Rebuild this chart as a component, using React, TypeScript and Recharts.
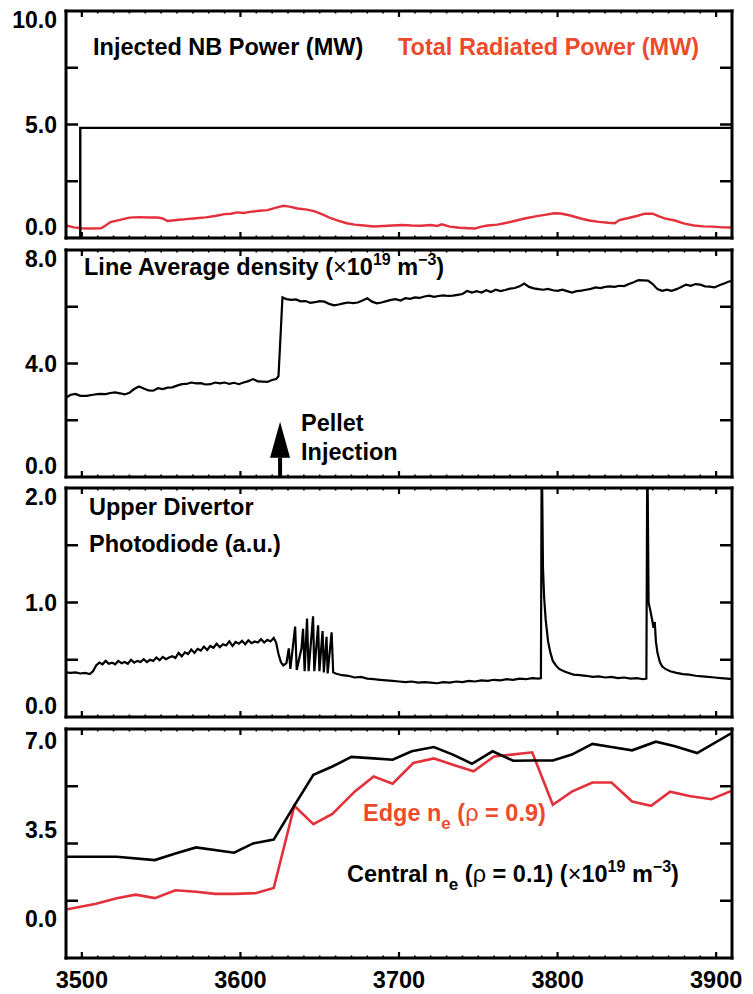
import { LineChart, Line, XAxis, YAxis, ReferenceLine } from 'recharts';

const FONT = '"Liberation Sans", Arial, Helvetica, sans-serif';
const INK = '#000';
const RED_LINE = '#e3303a';
const RED_TEXT = '#ee4a2a';

const timeDomain: [number, number] = [3490, 3910];
const minorTimeTicks = Array.from({ length: 43 }, (_, i) => 3490 + 10 * i);

// panel 1: injected NB power and total radiated power (MW)
const nbTime = [3490, 3499, 3499, 3910];
const nbPower = [0, 0, 4.85, 4.85];
const pradTime = [
  3490, 3495, 3500, 3505, 3512, 3515, 3518, 3524, 3530, 3536, 3542, 3548, 3551, 3554, 3560, 3566,
  3572, 3578, 3584, 3590, 3594, 3598, 3602, 3606, 3612, 3617, 3622, 3627, 3631, 3636, 3642, 3647,
  3652, 3657, 3662, 3667, 3672, 3678, 3684, 3690, 3696, 3702, 3708, 3714, 3720, 3724, 3727, 3732,
  3738, 3744, 3748, 3752, 3756, 3762, 3768, 3774, 3780, 3786, 3792, 3798, 3802, 3808, 3814, 3820,
  3826, 3832, 3836, 3839, 3844, 3850, 3855, 3860, 3864, 3868, 3874, 3880, 3886, 3892, 3898, 3904, 3910,
];
const pradPower = [
  0.55, 0.47, 0.43, 0.42, 0.43, 0.55, 0.7, 0.8, 0.9, 0.92, 0.9, 0.9, 0.86, 0.75, 0.79, 0.83,
  0.87, 0.91, 0.97, 1.05, 1.07, 1.13, 1.1, 1.15, 1.2, 1.23, 1.33, 1.42, 1.38, 1.3, 1.25, 1.17,
  1.03, 0.87, 0.75, 0.65, 0.59, 0.55, 0.51, 0.53, 0.55, 0.57, 0.55, 0.54, 0.57, 0.53, 0.6, 0.5,
  0.45, 0.43, 0.42, 0.5, 0.55, 0.59, 0.67, 0.77, 0.87, 0.95, 1.02, 1.09, 1.08, 0.99, 0.87, 0.77,
  0.71, 0.67, 0.65, 0.79, 0.87, 0.97, 1.07, 1.07, 0.95, 0.85, 0.77, 0.63, 0.55, 0.51, 0.5, 0.47, 0.46,
];

// panel 2: line average density (1e19 m^-3)
const densTime = [
  3490, 3493, 3496, 3499, 3503, 3507, 3511, 3515, 3518, 3521, 3524, 3527, 3530, 3533, 3536, 3539,
  3542, 3545, 3548, 3551, 3554, 3557, 3560, 3563, 3566, 3569, 3572, 3575, 3578, 3581, 3584, 3587,
  3590, 3593, 3596, 3599, 3602, 3605, 3608, 3611, 3614, 3617, 3620, 3622.5, 3624, 3625.5, 3626.5, 3629,
  3632, 3635, 3638, 3641, 3644, 3647, 3650, 3653, 3656, 3659, 3662, 3665, 3668, 3671, 3674, 3677,
  3680, 3683, 3686, 3689, 3692, 3695, 3698, 3701, 3704, 3707, 3710, 3713, 3716, 3719, 3722, 3725,
  3728, 3731, 3734, 3737, 3740, 3743, 3746, 3749, 3752, 3755, 3758, 3761, 3764, 3767, 3770, 3773,
  3776, 3779, 3782, 3785, 3788, 3791, 3794, 3797, 3800, 3803, 3806, 3809, 3812, 3815, 3818, 3821,
  3824, 3827, 3830, 3833, 3836, 3839, 3842, 3845, 3848, 3851, 3854, 3857, 3860, 3863, 3866, 3869,
  3872, 3875, 3878, 3881, 3884, 3887, 3890, 3893, 3896, 3899, 3902, 3905, 3908, 3910,
];
const densValue = [
  2.8, 2.9, 2.93, 2.86, 2.86, 2.9, 2.93, 2.92, 2.96, 2.98, 2.95, 2.91, 2.97, 3.1, 3.19, 3.12,
  3.05, 3.04, 3.13, 3.1, 3.15, 3.16, 3.22, 3.27, 3.28, 3.33, 3.3, 3.31, 3.26, 3.27, 3.33, 3.3,
  3.33, 3.28, 3.32, 3.27, 3.33, 3.38, 3.45, 3.37, 3.36, 3.35, 3.42, 3.45, 3.55, 5.2, 6.33, 6.27,
  6.24, 6.26, 6.19, 6.2, 6.14, 6.16, 6.2, 6.18, 6.1, 6.05, 6.08, 6.12, 6.15, 6.13, 6.15, 6.22,
  6.3, 6.18, 6.12, 6.15, 6.2, 6.24, 6.27, 6.22, 6.3, 6.28, 6.33, 6.31, 6.36, 6.39, 6.35, 6.38,
  6.4, 6.38, 6.39, 6.42, 6.45, 6.56, 6.5, 6.55, 6.5, 6.58, 6.52, 6.6, 6.55, 6.59, 6.64, 6.66,
  6.72, 6.82, 6.7, 6.65, 6.62, 6.6, 6.63, 6.58, 6.56, 6.6, 6.55, 6.5, 6.55, 6.57, 6.6, 6.63,
  6.68, 6.66, 6.7, 6.72, 6.7, 6.74, 6.73, 6.8, 6.86, 6.94, 6.93, 6.92, 6.8, 6.62, 6.56, 6.6,
  6.56, 6.62, 6.7, 6.78, 6.74, 6.8, 6.78, 6.72, 6.71, 6.68, 6.76, 6.82, 6.89, 6.9,
];
const pelletTime = 3625;
const pelletArrowTop = 1.95;

// panel 3: upper divertor photodiode (a.u.)
const diodeTime = [
  3490, 3493, 3496, 3499, 3502, 3505, 3507, 3509, 3511, 3513, 3515, 3517, 3519, 3521, 3523, 3525,
  3527, 3529, 3531, 3533, 3535, 3537, 3539, 3541, 3543, 3545, 3547, 3549, 3551, 3553, 3555, 3557,
  3559, 3561, 3563, 3565, 3567, 3569, 3571, 3573, 3575, 3577, 3579, 3581, 3583, 3585, 3587, 3589,
  3591, 3593, 3595, 3597, 3599, 3601, 3603, 3605, 3607, 3609, 3611, 3613, 3615, 3617, 3619, 3621,
  3622.5, 3624, 3625.5, 3627, 3629, 3630.5, 3631.5, 3634.5, 3635.5, 3638.5, 3639.5, 3640.5, 3642, 3643, 3645.8, 3646.6,
  3649, 3649.8, 3651.8, 3652.6, 3654.3, 3655, 3657.5, 3658.5, 3660, 3664, 3668, 3672, 3676, 3680, 3684, 3688,
  3692, 3696, 3700, 3704, 3708, 3712, 3716, 3720, 3724, 3728, 3732, 3736, 3740, 3744, 3748, 3752,
  3756, 3760, 3764, 3768, 3772, 3776, 3780, 3784, 3788, 3789.5, 3790, 3790.8, 3791.5, 3792.5, 3794, 3795.5,
  3797, 3799, 3801, 3804, 3807, 3810, 3814, 3818, 3822, 3826, 3830, 3834, 3838, 3842, 3846, 3850,
  3854, 3856, 3856.6, 3857.4, 3858.5, 3859.5, 3860.5, 3861.3, 3862, 3863, 3864.5, 3866, 3868, 3871, 3875, 3879,
  3883, 3887, 3891, 3895, 3899, 3903, 3907, 3910,
];
const diodeSignal = [
  0.39, 0.385, 0.39, 0.38, 0.385, 0.375, 0.4, 0.45, 0.475, 0.46, 0.49, 0.465, 0.475, 0.46, 0.49, 0.47,
  0.48, 0.465, 0.5, 0.475, 0.49, 0.48, 0.505, 0.48, 0.5, 0.49, 0.52, 0.495, 0.525, 0.505, 0.52, 0.53,
  0.515, 0.56, 0.53, 0.565, 0.55, 0.59, 0.56, 0.595, 0.58, 0.615, 0.585, 0.62, 0.605, 0.64, 0.61, 0.635,
  0.625, 0.66, 0.62, 0.655, 0.64, 0.665, 0.635, 0.67, 0.645, 0.66, 0.65, 0.68, 0.65, 0.675, 0.66, 0.69,
  0.65, 0.55, 0.48, 0.45, 0.47, 0.6, 0.42, 0.79, 0.41, 0.6, 0.77, 0.4, 0.86, 0.4, 0.88, 0.4,
  0.8, 0.4, 0.75, 0.39, 0.7, 0.38, 0.74, 0.39, 0.38, 0.365, 0.36, 0.345, 0.35, 0.335, 0.33, 0.325,
  0.32, 0.315, 0.31, 0.305, 0.31, 0.3, 0.305, 0.3, 0.295, 0.305, 0.3, 0.31, 0.305, 0.315, 0.31, 0.32,
  0.315, 0.325, 0.32, 0.33, 0.325, 0.335, 0.33, 0.34, 0.335, 0.34, 2.4, 1.3, 1.05, 0.85, 0.66, 0.56,
  0.49, 0.45, 0.42, 0.4, 0.385, 0.37, 0.365, 0.36, 0.35, 0.355, 0.345, 0.35, 0.34, 0.345, 0.335, 0.34,
  0.33, 0.335, 2.4, 1.0, 0.93, 0.86, 0.78, 0.83, 0.66, 0.56, 0.48, 0.44, 0.42, 0.4, 0.385, 0.375,
  0.37, 0.36, 0.355, 0.35, 0.345, 0.34, 0.335, 0.33,
];

// panel 4: central and edge density (1e19 m^-3)
const centralTime = [
  3490, 3522, 3546, 3559, 3572, 3596, 3608, 3621, 3633, 3646, 3658, 3670, 3684, 3696, 3708, 3722,
  3734, 3746, 3759, 3772, 3784, 3797, 3809, 3822, 3834, 3847, 3862, 3874, 3888, 3910,
];
const centralDensity = [
  2.43, 2.43, 2.3, 2.56, 2.8, 2.59, 2.96, 3.11, 4.35, 5.66, 5.99, 6.37, 6.31, 6.26, 6.59, 6.76,
  6.46, 6.1, 6.59, 6.22, 6.23, 6.23, 6.46, 6.88, 6.76, 6.63, 6.97, 6.79, 6.52, 7.32,
];
const edgeTime = [
  3490, 3509, 3522, 3534, 3546, 3559, 3572, 3584, 3596, 3610, 3621, 3634, 3646, 3658, 3672, 3684,
  3696, 3709, 3722, 3734, 3747, 3760, 3771, 3784, 3797, 3809, 3822, 3834, 3847, 3859, 3871, 3883,
  3897, 3910,
];
const edgeDensity = [
  0.35, 0.58, 0.8, 0.94, 0.8, 1.11, 1.05, 0.97, 0.97, 1.0, 1.2, 4.44, 3.72, 4.12, 5.0, 5.6,
  5.31, 6.13, 6.31, 6.06, 5.8, 6.39, 6.46, 6.55, 4.48, 5.0, 5.36, 5.36, 4.61, 4.44, 5.0, 4.83,
  4.7, 5.04,
];

const toPoints = (ts: number[], vs: number[]) => ts.map((t, i) => ({ t, v: vs[i] }));

const near = (list: number[], v: number) => list.some((m) => Math.abs(m - v) < 1e-6);

interface PanelProps {
  top: number;
  height: number;
  mTop: number;
  mBottom: number;
  domain: [number, number];
  labels: number[];
  marks: number[];
  showTime?: boolean;
  children: React.ReactNode;
}

// axes are 1px wide/high (recharts skips 0-sized axes), margins shrink by the same amount
function Panel({ top, height, mTop, mBottom, domain, labels, marks, showTime, children }: PanelProps) {
  const boxTop = mTop;
  const boxBottom = height - mBottom;
  const yTicks = [...labels, ...marks.filter((m) => !near(labels, m))].sort((a, b) => a - b);

  const leftTick = (p: any) => {
    const v = p.payload.value;
    const base = Math.min(Math.max(p.y + 8.3, boxTop + 17), boxBottom - 3);
    return (
      <g>
        {near(marks, v) && <line x1={p.x} x2={p.x + 12} y1={p.y} y2={p.y} stroke={INK} strokeWidth={2.5} />}
        {near(labels, v) && (
          <text x={p.x - 9} y={base} textAnchor="end" fontFamily={FONT} fontWeight={700} fontSize={23} fill={INK}>
            {v.toFixed(1)}
          </text>
        )}
      </g>
    );
  };

  const rightTick = (p: any) => (
    <line x1={p.x} x2={p.x - 12} y1={p.y} y2={p.y} stroke={INK} strokeWidth={2.5} />
  );

  const bottomTick = (p: any) => {
    const major = p.payload.value % 100 === 0;
    return (
      <g>
        <line x1={p.x} x2={p.x} y1={p.y} y2={p.y - (major ? 6 : 2.5)} stroke={INK} strokeWidth={major ? 2.2 : 1.6} />
        {showTime && major && (
          <text x={p.x} y={p.y + 30} textAnchor="middle" fontFamily={FONT} fontWeight={700} fontSize={23.5} fill={INK}>
            {p.payload.value}
          </text>
        )}
      </g>
    );
  };

  const topTick = (p: any) => {
    const major = p.payload.value % 100 === 0;
    return <line x1={p.x} x2={p.x} y1={p.y} y2={p.y + (major ? 6 : 2.5)} stroke={INK} strokeWidth={major ? 2.2 : 1.6} />;
  };

  const frame = { stroke: INK, strokeWidth: 3, strokeLinecap: 'square' as const };

  return (
    <div style={{ position: 'absolute', left: 0, top, width: 753, height }}>
      <LineChart width={753} height={height} margin={{ top: mTop - 1, right: 20, bottom: mBottom - 1, left: 65 }}>
        <XAxis
          dataKey="t"
          type="number"
          domain={timeDomain}
          ticks={minorTimeTicks}
          interval={0}
          height={1}
          tickSize={0}
          tickMargin={0}
          tickLine={false}
          tick={bottomTick}
          axisLine={frame}
          allowDataOverflow
        />
        <XAxis
          xAxisId="top"
          orientation="top"
          dataKey="t"
          type="number"
          domain={timeDomain}
          ticks={minorTimeTicks}
          interval={0}
          height={1}
          tickSize={0}
          tickMargin={0}
          tickLine={false}
          tick={topTick}
          axisLine={frame}
          allowDataOverflow
        />
        <YAxis
          type="number"
          domain={domain}
          ticks={yTicks}
          interval={0}
          width={1}
          tickSize={0}
          tickMargin={0}
          tickLine={false}
          tick={leftTick}
          axisLine={frame}
          allowDataOverflow
        />
        <YAxis
          yAxisId="r"
          orientation="right"
          type="number"
          domain={domain}
          ticks={marks}
          interval={0}
          width={1}
          tickSize={0}
          tickMargin={0}
          tickLine={false}
          tick={rightTick}
          axisLine={frame}
          allowDataOverflow
        />
        {children}
      </LineChart>
    </div>
  );
}

const PelletArrow = (p: any) => {
  const { x1, y1, x2, y2 } = p;
  const headLen = 36;
  const headHalf = 10;
  return (
    <g>
      <line x1={x1} x2={x1} y1={y1} y2={y2 + headLen} stroke={INK} strokeWidth={4} />
      <path d={`M${x2},${y2} L${x2 - headHalf},${y2 + headLen} L${x2 + headHalf},${y2 + headLen} Z`} fill={INK} />
    </g>
  );
};

const txt = { fontFamily: FONT, fontWeight: 700, fontSize: 23.5 } as const;

export default function App() {
  const p4Lo = -1.56;
  const p4Hi = 7.47;
  const p4Marks = [1, 2, 3].map((k) => p4Lo + (k * (p4Hi - p4Lo)) / 4);

  return (
    <div style={{ position: 'absolute', left: 0, top: 0, width: 753, height: 994, background: '#fff', overflow: 'hidden' }}>
      <Panel top={0} height={244} mTop={11} mBottom={6} domain={[0, 10]} labels={[0, 5, 10]} marks={[2.5, 5, 7.5]}>
        <Line data={toPoints(pradTime, pradPower)} dataKey="v" type="linear" stroke={RED_LINE} strokeWidth={2.4} dot={false} isAnimationActive={false} />
        <Line data={toPoints(nbTime, nbPower)} dataKey="v" type="linear" stroke={INK} strokeWidth={2.4} dot={false} isAnimationActive={false} />
      </Panel>
      <Panel top={244} height={239} mTop={6} mBottom={6} domain={[0, 8]} labels={[0, 4, 8]} marks={[2, 4, 6]}>
        <Line data={toPoints(densTime, densValue)} dataKey="v" type="linear" stroke={INK} strokeWidth={2.2} dot={false} isAnimationActive={false} />
        <ReferenceLine
          segment={[{ x: pelletTime, y: 0 }, { x: pelletTime, y: pelletArrowTop }]}
          shape={PelletArrow}
          ifOverflow="visible"
        />
      </Panel>
      <Panel top={483} height={240} mTop={5} mBottom={6} domain={[0, 2]} labels={[0, 1, 2]} marks={[0.5, 1, 1.5]}>
        <Line data={toPoints(diodeTime, diodeSignal)} dataKey="v" type="linear" stroke={INK} strokeWidth={2.2} dot={false} isAnimationActive={false} />
      </Panel>
      <Panel top={723} height={271} mTop={6} mBottom={36} domain={[p4Lo, p4Hi]} labels={[0, 3.5, 7]} marks={p4Marks} showTime>
        <Line data={toPoints(edgeTime, edgeDensity)} dataKey="v" type="linear" stroke={RED_LINE} strokeWidth={2.6} dot={false} isAnimationActive={false} />
        <Line data={toPoints(centralTime, centralDensity)} dataKey="v" type="linear" stroke={INK} strokeWidth={2.6} dot={false} isAnimationActive={false} />
      </Panel>

      <svg width={753} height={994} style={{ position: 'absolute', left: 0, top: 0, pointerEvents: 'none' }}>
        <text x={93} y={55} {...txt} fill={INK}>Injected NB Power (MW)</text>
        <text x={398} y={55} {...txt} fill={RED_TEXT}>Total Radiated Power (MW)</text>

        <text x={84} y={275} {...txt} fill={INK}>
          Line Average density (<tspan fontWeight={400}>×</tspan>10
          <tspan dy={-10} fontSize={16}>19</tspan>
          <tspan dy={10}> m</tspan>
          <tspan dy={-10} fontSize={16}>−3</tspan>
          <tspan dy={10}>)</tspan>
        </text>
        <text x={301} y={431} {...txt} fill={INK}>Pellet</text>
        <text x={301} y={460} {...txt} fill={INK}>Injection</text>

        <text x={89} y={515} {...txt} fill={INK}>Upper Divertor</text>
        <text x={89} y={552} {...txt} fill={INK}>Photodiode (a.u.)</text>

        <text x={363} y={821} {...txt} fill={RED_TEXT}>
          Edge n<tspan dy={8} fontSize={17}>e</tspan>
          <tspan dy={-8}> (</tspan>
          <tspan fontWeight={400}>ρ</tspan> = 0.9)
        </text>
        <text x={347} y={882} {...txt} fill={INK}>
          Central n<tspan dy={8} fontSize={17}>e</tspan>
          <tspan dy={-8}> (</tspan>
          <tspan fontWeight={400}>ρ</tspan> = 0.1) (<tspan fontWeight={400}>×</tspan>10
          <tspan dy={-10} fontSize={16}>19</tspan>
          <tspan dy={10}> m</tspan>
          <tspan dy={-10} fontSize={16}>−3</tspan>
          <tspan dy={10}>)</tspan>
        </text>
      </svg>
    </div>
  );
}
